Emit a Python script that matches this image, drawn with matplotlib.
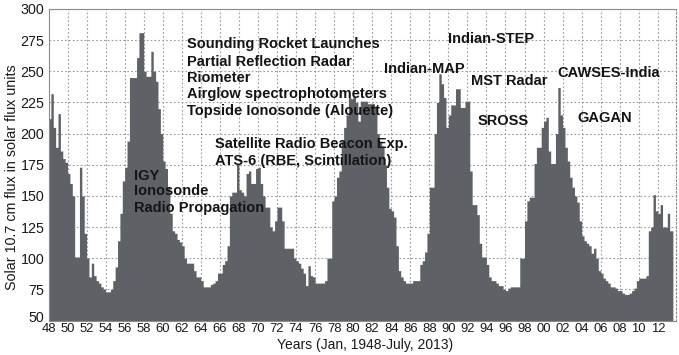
import matplotlib
matplotlib.use("Agg")
import matplotlib.pyplot as plt
from matplotlib.transforms import ScaledTranslation
import numpy as np

plt.rcParams["font.family"] = ["Liberation Sans", "DejaVu Sans"]

FIRST_YEAR = 1948
LAST_DATE = 2013 + 7 / 12  # end of July 2013
flux_quarterly = [
    212, 232, 205, 189,  # 1948
    216, 186, 180, 177,  # 1949
    168, 160, 150, 101,  # 1950
    101, 173, 150, 120,  # 1951
    100, 85, 96, 86,     # 1952
    82, 80, 77, 75,      # 1953
    73, 73, 75, 82,      # 1954
    93, 114, 136, 162,   # 1955
    173, 194, 245, 245,  # 1956
    245, 261, 281, 281,  # 1957
    250, 246, 246, 266,  # 1958
    250, 242, 220, 200,  # 1959
    178, 172, 157, 136,  # 1960
    122, 120, 115, 113,  # 1961
    110, 100, 96, 96,    # 1962
    96, 90, 85, 85,      # 1963
    82, 77, 77, 77,      # 1964
    79, 80, 82, 88,      # 1965
    88, 95, 98, 110,     # 1966
    150, 153, 153, 176,  # 1967
    155, 153, 150, 168,  # 1968
    170, 160, 160, 172,  # 1969
    173, 160, 150, 141,  # 1970
    141, 125, 122, 130,  # 1971
    141, 141, 130, 108,  # 1972
    108, 108, 108, 100,  # 1973
    98, 96, 92, 88,      # 1974
    78, 94, 86, 85,      # 1975
    80, 80, 80, 80,      # 1976
    82, 100, 100, 146,   # 1977
    150, 165, 170, 194,  # 1978
    205, 215, 229, 228,  # 1979
    230, 225, 210, 226,  # 1980
    226, 226, 224, 224,  # 1981
    224, 222, 200, 194,  # 1982
    190, 175, 157, 140,  # 1983
    138, 133, 110, 90,   # 1984
    85, 82, 80, 80,      # 1985
    80, 82, 82, 82,      # 1986
    95, 98, 105, 120,    # 1987
    157, 157, 200, 225,  # 1988
    248, 240, 229, 205,  # 1989
    215, 223, 223, 236,  # 1990
    236, 221, 221, 226,  # 1991
    226, 170, 143, 143,  # 1992
    135, 112, 101, 101,  # 1993
    95, 85, 82, 82,      # 1994
    80, 78, 78, 75,      # 1995
    74, 76, 77, 77,      # 1996
    77, 77, 100, 100,    # 1997
    130, 146, 149, 149,  # 1998
    176, 189, 189, 205,  # 1999
    210, 213, 186, 176,  # 2000
    176, 200, 237, 215,  # 2001
    205, 189, 178, 165,  # 2002
    157, 150, 145, 130,  # 2003
    118, 114, 112, 110,  # 2004
    104, 108, 100, 90,   # 2005
    88, 84, 82, 80,      # 2006
    77, 77, 76, 74,      # 2007
    74, 72, 71, 71,      # 2008
    72, 74, 76, 82,      # 2009
    84, 84, 84, 86,      # 2010
    122, 125, 151, 138,  # 2011
    136, 143, 125, 125,  # 2012
    136, 122, 122,       # 2013 (Q3 = July only)
]

year_ticks = list(range(1948, 2013, 2))
year_tick_labels = ["48", "50", "52", "54", "56", "58", "60", "62", "64", "66", "68",
                    "70", "72", "74", "76", "78", "80", "82", "84", "86", "88", "90",
                    "92", "94", "96", "98", "00", "02", "04", "06", "08", "10", "12"]
flux_ticks = [50, 75, 100, 125, 150, 175, 200, 225, 250, 275, 300]

# programme labels: (text, left edge in years, baseline in sfu)
annotations = [
    ("Sounding Rocket Launches", 1962.58, 268.5),
    ("Partial Reflection Radar", 1962.58, 254.3),
    ("Riometer", 1962.58, 241.7),
    ("Airglow spectrophotometers", 1962.58, 228.3),
    ("Topside Ionosonde (Alouette)", 1962.58, 214.9),
    ("Satellite Radio Beacon Exp.", 1965.54, 188.2),
    ("ATS-6 (RBE, Scintillation)", 1965.54, 174.8),
    ("IGY", 1956.93, 162.8),
    ("Ionosonde", 1956.93, 150.7),
    ("Radio Propagation", 1956.93, 137.3),
    ("Indian-STEP", 1989.94, 272.5),
    ("Indian-MAP", 1983.29, 248.4),
    ("MST Radar", 1992.4, 239.0),
    ("CAWSES-India", 2001.5, 245.7),
    ("SROSS", 1993.1, 206.9),
    ("GAGAN", 2003.57, 209.6),
]

W, H = 679, 355
fig = plt.figure(figsize=(W / 100, H / 100), dpi=100)
ax = fig.add_axes([48.5 / W, (H - 320.5) / H, 627 / W, 311.5 / H])

t = FIRST_YEAR + 0.25 * np.arange(len(flux_quarterly))
t_edges = np.append(t, LAST_DATE)
vals = np.append(flux_quarterly, flux_quarterly[-1])
ax.fill_between(t_edges, vals, 0, step="post", color="#5e6266", lw=0, zorder=2)

ax.set_xlim(1948, 2013.86)
ax.set_ylim(50, 300)
ax.set_xticks(year_ticks, year_tick_labels)
ax.set_yticks(flux_ticks)
ax.tick_params(axis="x", length=0, pad=2, labelsize=9.4, colors="#1a1a1a")
ax.tick_params(axis="y", length=0, pad=3, labelsize=10.3, colors="#1a1a1a")

# the bottom "50" sits a little high in the original, clear of the "48"
lbl50 = ax.yaxis.get_major_ticks()[0].label1
lbl50.set_transform(lbl50.get_transform() + ScaledTranslation(0, 0.045, fig.dpi_scale_trans))

ax.set_axisbelow(True)
ax.grid(True, color="#9a9a9a", ls=(0, (1.5, 2)), lw=0.8)
for name, sp in ax.spines.items():
    sp.set_color("#8c8c8c")
    sp.set_linewidth(0.8)
ax.spines["right"].set_linestyle((0, (1.5, 2)))

for label, x, y in annotations:
    ax.text(x, y, label, fontsize=10.5, fontweight="bold", color="#141414",
            ha="left", va="baseline", zorder=3)

fig.text(12 / W, 1 - 177.5 / H, "Solar 10.7 cm flux in solar flux units",
         rotation=90, ha="center", va="center", fontsize=10.3, color="#1a1a1a")
fig.text(365 / W, 1 - 345 / H, "Years (Jan, 1948-July, 2013)",
         ha="center", va="center", fontsize=10, color="#1a1a1a")

fig.savefig("out.png", dpi=100)
